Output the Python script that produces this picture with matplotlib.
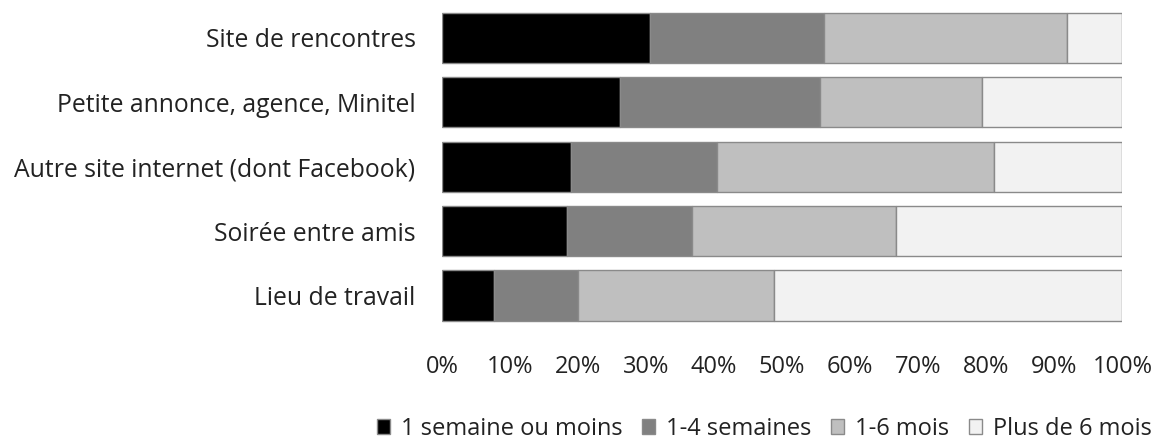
import matplotlib
matplotlib.use("Agg")
import matplotlib.pyplot as plt
import numpy as np

categories = [
    "Site de rencontres",
    "Petite annonce, agence, Minitel",
    "Autre site internet (dont Facebook)",
    "Soirée entre amis",
    "Lieu de travail",
]
series_names = ["1 semaine ou moins", "1-4 semaines", "1-6 mois", "Plus de 6 mois"]
week_or_less = [30.6, 26.1, 18.9, 18.4, 7.7]
one_to_four_weeks = [25.5, 29.5, 21.5, 18.4, 12.3]
one_to_six_months = [35.8, 23.8, 40.7, 30.0, 28.8]
over_six_months = [8.1, 20.6, 18.9, 33.2, 51.2]
tick_labels = ["0%", "10%", "20%", "30%", "40%", "50%", "60%", "70%", "80%", "90%", "100%"]

colors = ["#000000", "#808080", "#bfbfbf", "#f2f2f2"]
text_color = "#222222"

plt.rcParams["font.family"] = ["Open Sans", "DejaVu Sans"]

fig = plt.figure(figsize=(11.74, 4.45), dpi=100)
ax = fig.add_axes([0.3765, 0.2636, 0.5795, 0.7234])

y = np.arange(len(categories))
left = np.zeros(len(categories))
handles = []
for name, vals, col in zip(series_names,
                           [week_or_less, one_to_four_weeks, one_to_six_months, over_six_months],
                           colors):
    b = ax.barh(y, vals, left=left, height=0.78, color=col,
                edgecolor="#8a8a8a", linewidth=1.0, label=name)
    handles.append(b)
    left += np.array(vals)

ax.set_ylim(len(categories) - 0.5, -0.5)
ax.set_xlim(0, 100)
ax.set_yticks(y)
ax.set_yticklabels(categories, fontsize=17.8, color=text_color)
ax.set_xticks(np.arange(0, 101, 10))
ax.set_xticklabels(tick_labels, fontsize=17, color=text_color)
ax.tick_params(axis="y", length=0, pad=19)
ax.tick_params(axis="x", length=0, pad=20)
for s in ax.spines.values():
    s.set_visible(False)

fig.legend(handles=handles, labels=series_names, loc="lower right",
           bbox_to_anchor=(0.993, -0.022), ncol=4, frameon=False,
           fontsize=17, handlelength=0.55, handleheight=0.6,
           handletextpad=0.45, columnspacing=0.85, labelcolor=text_color,
           borderaxespad=0.2)

fig.savefig("out.png", dpi=100, facecolor="white")
